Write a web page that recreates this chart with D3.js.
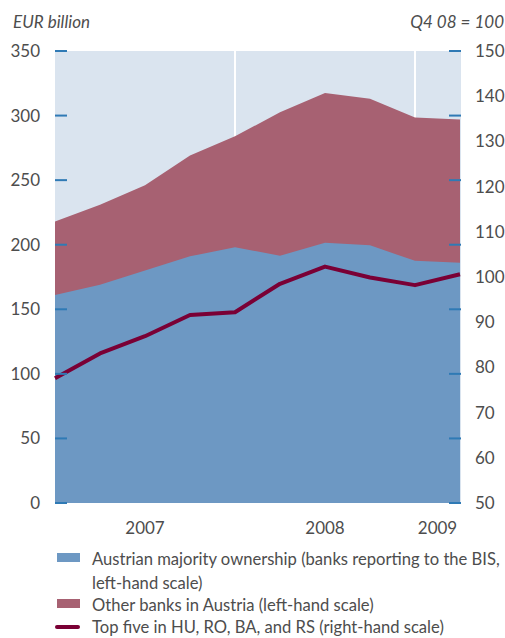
<!DOCTYPE html>
<html>
<head>
<meta charset="utf-8">
<script src="https://cdn.jsdelivr.net/npm/d3@7"></script>
<style>
  body { margin: 0; background: #fff; }
  text { font-family: Lato, "Open Sans", sans-serif; fill: #4d4d4d; }
</style>
</head>
<body>
<script>
// quarterly data, Q1 07 .. Q2 09
const quarters = ['Q1 07', 'Q2 07', 'Q3 07', 'Q4 07', 'Q1 08', 'Q2 08', 'Q3 08', 'Q4 08', 'Q1 09', 'Q2 09'];
const majority = [161, 169, 180, 191, 198, 191.5, 201.5, 199.5, 187.5, 186];
const otherBanks = [57, 62, 66, 78, 86, 111, 116, 113.5, 111, 111];
const topFive = [77.6, 83.1, 86.9, 91.6, 92.2, 98.5, 102.3, 99.9, 98.2, 100.6];

const years = ['2007', '2008', '2009'];
const yearStart = ['Q1 07', 'Q1 08', 'Q1 09'];
const leftTicks = [0, 50, 100, 150, 200, 250, 300, 350];
const rightTicks = [50, 60, 70, 80, 90, 100, 110, 120, 130, 140, 150];

const legendItems = [
  { kind: 'area', color: '#6d98c3', lines: ['Austrian majority ownership (banks reporting to the BIS,', 'left-hand scale)'] },
  { kind: 'area', color: '#a76172', lines: ['Other banks in Austria (left-hand scale)'] },
  { kind: 'line', color: '#7a0035', lines: ['Top five in HU, RO, BA, and RS (right-hand scale)'] },
];

const W = 505, H = 638;
const plotL = 55, plotR = 461, plotT = 51, plotB = 503;

const svg = d3.select('body').append('svg')
  .attr('width', W).attr('height', H);

const x = d3.scalePoint().domain(quarters).range([plotL, plotR - 1]);
const yL = d3.scaleLinear().domain([0, 350]).range([plotB, plotT]);
const yR = d3.scaleLinear().domain([50, 150]).range([plotB, plotT]);

// background
svg.append('rect')
  .attr('x', plotL).attr('y', plotT)
  .attr('width', plotR - plotL).attr('height', plotB - plotT)
  .attr('fill', '#dae4ef');

// white year separators
svg.selectAll('.vgrid').data(yearStart.slice(1)).enter().append('line')
  .attr('x1', d => x(d)).attr('x2', d => x(d))
  .attr('y1', plotT).attr('y2', plotB)
  .attr('stroke', '#fff').attr('stroke-width', 2);

const rows = quarters.map((q, i) => ({ q, maj: majority[i], tot: majority[i] + otherBanks[i], idx: topFive[i] }));

const areaTot = d3.area().x(d => x(d.q)).y0(yL(0)).y1(d => yL(d.tot));
const areaMaj = d3.area().x(d => x(d.q)).y0(yL(0)).y1(d => yL(d.maj));

svg.append('path').datum(rows).attr('d', areaTot).attr('fill', legendItems[1].color);
svg.append('path').datum(rows).attr('d', areaMaj).attr('fill', legendItems[0].color);

svg.append('path').datum(rows)
  .attr('d', d3.line().x(d => x(d.q)).y(d => yR(d.idx)))
  .attr('fill', 'none')
  .attr('stroke', legendItems[2].color)
  .attr('stroke-width', 4)
  .attr('stroke-linejoin', 'round');

// left axis
svg.append('g').selectAll('line').data(leftTicks).enter().append('line')
  .attr('x1', plotL).attr('x2', plotL + 12)
  .attr('y1', d => yL(d)).attr('y2', d => yL(d))
  .attr('stroke', '#2f7ab5').attr('stroke-width', 2);
svg.append('g').selectAll('text').data(leftTicks).enter().append('text')
  .attr('x', 40).attr('y', d => yL(d))
  .attr('dy', '0.35em')
  .attr('text-anchor', 'end')
  .attr('font-size', 17)
  .text(d => d);

// right axis: ticks sit at the left-scale positions
svg.append('g').selectAll('line').data(leftTicks).enter().append('line')
  .attr('x1', plotR - 12).attr('x2', plotR)
  .attr('y1', d => yL(d)).attr('y2', d => yL(d))
  .attr('stroke', '#2f7ab5').attr('stroke-width', 2);
svg.append('g').selectAll('text').data(rightTicks).enter().append('text')
  .attr('x', 475).attr('y', d => yR(d))
  .attr('dy', '0.35em')
  .attr('font-size', 17)
  .text(d => d);

// year labels centred on their span
const yearEnd = [x(yearStart[1]), x(yearStart[2]), x(quarters[quarters.length - 1])];
svg.append('g').selectAll('text').data(years).enter().append('text')
  .attr('x', (d, i) => (x(yearStart[i]) + yearEnd[i]) / 2)
  .attr('y', 534)
  .attr('text-anchor', 'middle')
  .attr('font-size', 17)
  .text(d => d);

// units
svg.append('text').attr('x', 13).attr('y', 28)
  .attr('font-size', 17).attr('font-style', 'italic')
  .text('EUR billion');
svg.append('text').attr('x', 504).attr('y', 28)
  .attr('text-anchor', 'end')
  .attr('font-size', 17).attr('font-style', 'italic')
  .text('Q4 08 = 100');

// legend
const legendY = [565, 611, 633];
legendItems.forEach((item, i) => {
  const g = svg.append('g');
  const by = legendY[i];
  if (item.kind === 'area') {
    g.append('rect').attr('x', 57).attr('y', by - 12).attr('width', 23).attr('height', 9)
      .attr('fill', item.color);
  } else {
    g.append('line').attr('x1', 57).attr('x2', 78).attr('y1', by - 6).attr('y2', by - 6)
      .attr('stroke', item.color).attr('stroke-width', 4).attr('stroke-linecap', 'round');
  }
  item.lines.forEach((t, j) => {
    g.append('text').attr('x', 92).attr('y', by + j * 24)
      .attr('font-size', 16.6).text(t);
  });
});
</script>
</body>
</html>
